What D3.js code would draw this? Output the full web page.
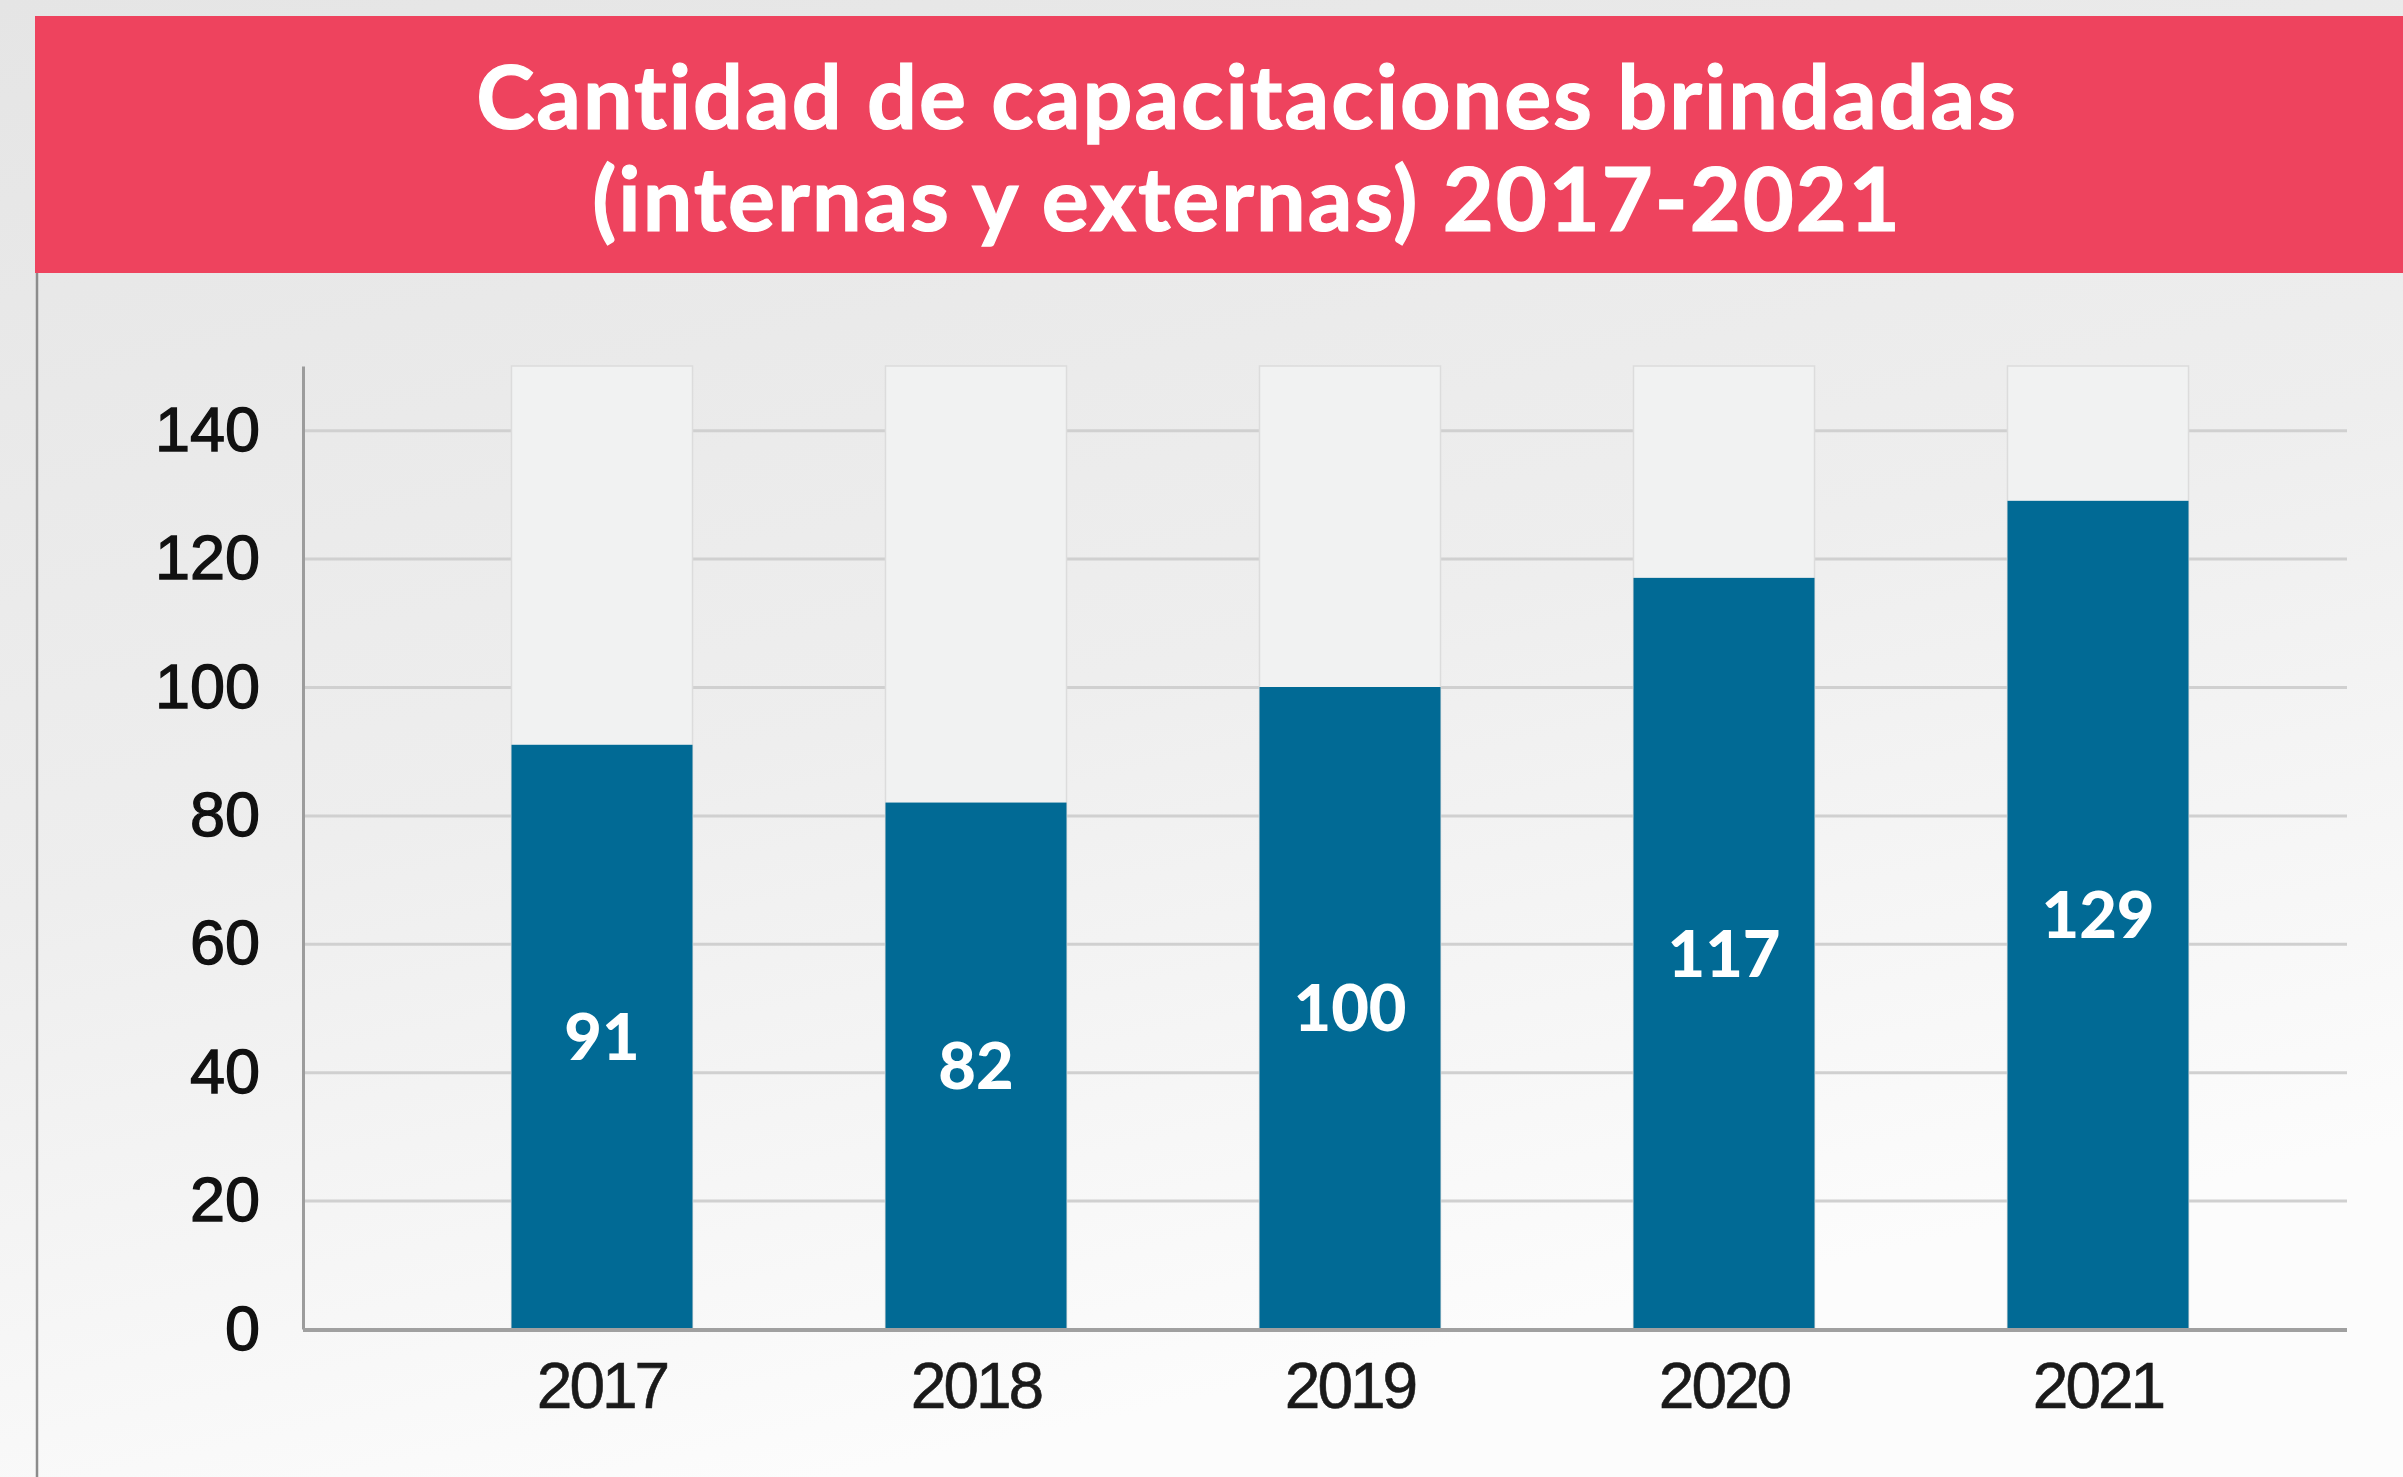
<!DOCTYPE html>
<html>
<head>
<meta charset="utf-8">
<script src="https://cdn.jsdelivr.net/npm/d3@7"></script>
<style>
  body { margin: 0; overflow: hidden; background: #fff; }
</style>
</head>
<body>
<svg id="chart" width="2403" height="1477"></svg>
<script>
// data
const years = ['2017', '2018', '2019', '2020', '2021'];
const capacitaciones = [91, 82, 100, 117, 129];
const yTicks = [0, 20, 40, 60, 80, 100, 120, 140];
const yMax = 150; // the pale "track" behind every bar runs up to here
const titleLines = ['Cantidad de capacitaciones brindadas', '(internas y externas) 2017-2021'];

const svg = d3.select('#chart');

// soft grey backdrop (the original has a faded photo behind)
const defs = svg.append('defs');
const bg = defs.append('linearGradient')
  .attr('id', 'bg')
  .attr('x1', 0).attr('y1', 0).attr('x2', 0.35).attr('y2', 1);
bg.append('stop').attr('offset', 0).attr('stop-color', '#e5e5e5');
bg.append('stop').attr('offset', 0.55).attr('stop-color', '#eeeeee');
bg.append('stop').attr('offset', 1).attr('stop-color', '#fcfcfc');

svg.append('rect')
  .attr('width', 2403).attr('height', 1477)
  .attr('fill', 'url(#bg)');

// left rule below the banner
svg.append('line')
  .attr('x1', 37).attr('x2', 37)
  .attr('y1', 272).attr('y2', 1477)
  .attr('stroke', '#8c8c8c').attr('stroke-width', 2.5);

// title banner
svg.append('rect')
  .attr('x', 35).attr('y', 16)
  .attr('width', 2403 - 35).attr('height', 257)
  .attr('fill', '#ee435e');

svg.append('g')
  .selectAll('text')
  .data(titleLines)
  .join('text')
  .attr('x', 1247)
  .attr('y', (d, i) => 129 + i * 102)
  .attr('text-anchor', 'middle')
  .attr('fill', '#ffffff')
  .style('font-family', 'Lato, "Open Sans", sans-serif')
  .style('font-weight', 700)
  .style('font-size', '88px')
  .style('letter-spacing', '2px')
  .style('font-variant-ligatures', 'none')
  .style('stroke', '#ffffff')
  .style('stroke-width', '1.2px')
  .text(d => d);

// plot
const plotLeft = 303, plotRight = 2347;
const y = d3.scaleLinear().domain([0, yMax]).range([1329, 366]);
const x = d3.scaleBand()
  .domain(years)
  .range([415, 2285])
  .paddingInner(0.516)
  .paddingOuter(0.258);

// gridlines
const grid = svg.append('g')
  .attr('transform', `translate(${plotLeft},0)`)
  .call(d3.axisLeft(y).tickValues(yTicks.slice(1)).tickSize(-(plotRight - plotLeft)).tickFormat(''));
grid.select('.domain').remove();
grid.selectAll('.tick line')
  .attr('stroke', '#d0d0d0')
  .attr('stroke-width', 3);

// pale background tracks
svg.append('g')
  .selectAll('rect')
  .data(years)
  .join('rect')
  .attr('x', d => x(d))
  .attr('y', y(yMax))
  .attr('width', x.bandwidth())
  .attr('height', y(0) - y(yMax))
  .attr('fill', '#f1f2f2')
  .attr('stroke', '#dcdcdc')
  .attr('stroke-width', 1.5);

// value bars
svg.append('g')
  .selectAll('rect')
  .data(capacitaciones)
  .join('rect')
  .attr('x', (d, i) => x(years[i]))
  .attr('y', d => y(d))
  .attr('width', x.bandwidth())
  .attr('height', d => y(0) - y(d))
  .attr('fill', '#016a95');

// value labels in the middle of each bar
svg.append('g')
  .selectAll('text')
  .data(capacitaciones)
  .join('text')
  .attr('x', (d, i) => x(years[i]) + x.bandwidth() / 2)
  .attr('y', d => (y(d) + y(0)) / 2)
  .attr('dy', '0.36em')
  .attr('text-anchor', 'middle')
  .attr('fill', '#ffffff')
  .style('font-family', 'Lato, sans-serif')
  .style('font-weight', 900)
  .style('font-size', '65px')
  .text(d => d);

// y axis
const yAxis = svg.append('g')
  .attr('transform', `translate(${plotLeft},0)`)
  .call(d3.axisLeft(y).tickValues(yTicks).tickSize(0).tickSizeOuter(0).tickPadding(43));
yAxis.select('.domain')
  .attr('stroke', '#9c9c9c')
  .attr('stroke-width', 3);
yAxis.selectAll('text')
  .attr('fill', '#111')
  .attr('stroke', '#111')
  .attr('stroke-width', 1.3)
  .style('font-family', '"Liberation Sans", Arial, sans-serif')
  .style('font-size', '63px');

// baseline
svg.append('line')
  .attr('x1', plotLeft).attr('x2', plotRight)
  .attr('y1', y(0) + 1).attr('y2', y(0) + 1)
  .attr('stroke', '#a0a0a0')
  .attr('stroke-width', 4);

// x axis labels
const xAxis = svg.append('g')
  .attr('transform', `translate(0,${y(0)})`)
  .call(d3.axisBottom(x).tickSize(0).tickPadding(34));
xAxis.select('.domain').remove();
xAxis.selectAll('text')
  .attr('fill', '#1a1a1a')
  .attr('stroke', '#1a1a1a')
  .attr('stroke-width', 0.6)
  .style('font-family', '"Liberation Sans", Arial, sans-serif')
  .style('font-size', '64px')
  .style('letter-spacing', '-3px');
</script>
</body>
</html>
